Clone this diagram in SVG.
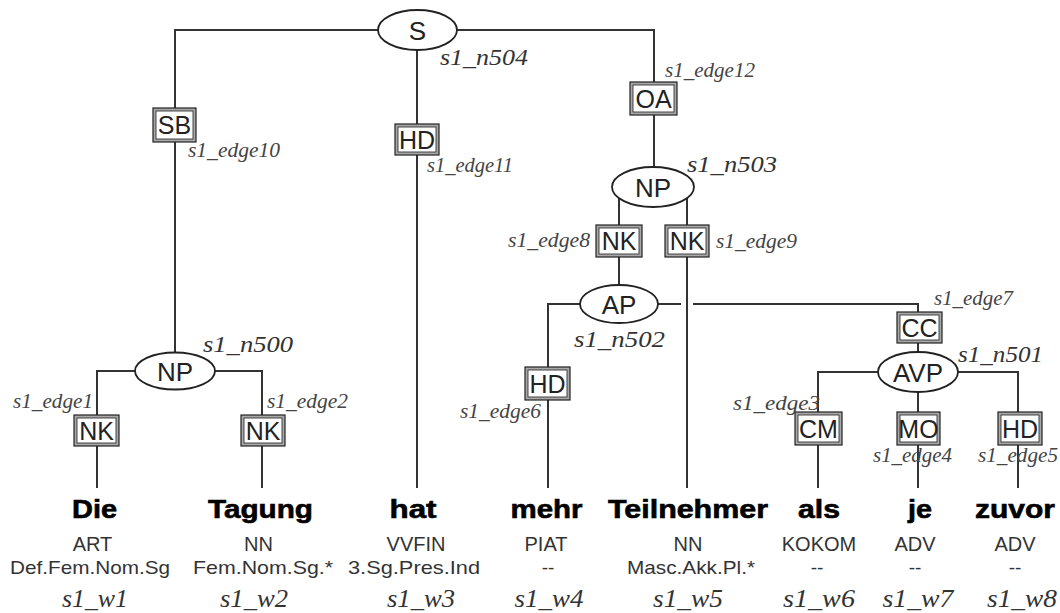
<svg xmlns="http://www.w3.org/2000/svg" width="1060" height="613" viewBox="0 0 1060 613">
<style>
.ln{fill:none;stroke:#333;stroke-width:2}
.el{fill:#fff;stroke:#222;stroke-width:1.8}
.bo{fill:#a8a8a8;stroke:#222;stroke-width:1.2}
.bi{fill:#fff;stroke:#333;stroke-width:0.9}
.nt{font-family:"Liberation Sans",Arial,sans-serif;font-size:26px;fill:#222;text-anchor:middle}
.bt{font-family:"Liberation Sans",Arial,sans-serif;font-size:25px;fill:#222;text-anchor:middle}
.id{font-family:"Liberation Serif","Times New Roman",serif;font-style:italic;font-size:24px;fill:#333}
.ed{font-family:"Liberation Serif","Times New Roman",serif;font-style:italic;font-size:20px;fill:#444}
.w{font-family:"Liberation Sans",Arial,sans-serif;font-weight:bold;font-size:25px;fill:#000;stroke:#000;stroke-width:0.6;text-anchor:middle}
.p{font-family:"Liberation Sans",Arial,sans-serif;font-size:20px;fill:#333;text-anchor:middle}
.m{font-family:"Liberation Sans",Arial,sans-serif;font-size:19px;fill:#333;text-anchor:middle}
.wi{font-family:"Liberation Serif","Times New Roman",serif;font-style:italic;font-size:26px;fill:#333;text-anchor:middle}
</style>
<rect width="1060" height="613" fill="#fff"/>
<g id="connectors">
<path class="ln" d="M378,30 H175 V353"/>
<path class="ln" d="M417,50 V488"/>
<path class="ln" d="M457,30 H654 V167"/>
<path class="ln" d="M135,371 H97 V488"/>
<path class="ln" d="M215,371 H262 V488"/>
<path class="ln" d="M619,198 V285"/>
<path class="ln" d="M687,198 V488"/>
<path class="ln" d="M580,304 H548 V488"/>
<path class="ln" d="M658,304 H681"/>
<path class="ln" d="M693,304 H918 V352"/>
<path class="ln" d="M878,372 H818 V488"/>
<path class="ln" d="M918,392 V488"/>
<path class="ln" d="M958,372 H1018 V488"/>
</g>
<g id="edge-labels">
<g id="e10"><rect class="bo" x="153" y="108" width="43" height="34"/><rect class="bi" x="156" y="111" width="37" height="28"/><text class="bt" x="174.5" y="134">SB</text><text class="ed" x="188" y="157" textLength="92" lengthAdjust="spacingAndGlyphs">s1_edge10</text></g>
<g id="e11"><rect class="bo" x="395" y="124" width="44" height="31"/><rect class="bi" x="398" y="127" width="38" height="25"/><text class="bt" x="417" y="148.5">HD</text><text class="ed" x="427" y="172" textLength="86" lengthAdjust="spacingAndGlyphs">s1_edge11</text></g>
<g id="e12"><rect class="bo" x="630" y="82" width="47" height="33"/><rect class="bi" x="633" y="85" width="41" height="27"/><text class="bt" x="653.5" y="107.5">OA</text><text class="ed" x="665" y="77" textLength="90" lengthAdjust="spacingAndGlyphs">s1_edge12</text></g>
<g id="e8"><rect class="bo" x="596" y="225" width="46" height="32"/><rect class="bi" x="599" y="228" width="40" height="26"/><text class="bt" x="619" y="250">NK</text><text class="ed" x="508" y="247" textLength="82" lengthAdjust="spacingAndGlyphs">s1_edge8</text></g>
<g id="e9"><rect class="bo" x="665" y="225" width="44" height="32"/><rect class="bi" x="668" y="228" width="38" height="26"/><text class="bt" x="687" y="250">NK</text><text class="ed" x="716" y="248" textLength="81" lengthAdjust="spacingAndGlyphs">s1_edge9</text></g>
<g id="e1"><rect class="bo" x="74" y="415" width="45" height="31"/><rect class="bi" x="77" y="418" width="39" height="25"/><text class="bt" x="96.5" y="439.5">NK</text><text class="ed" x="13" y="408" textLength="80" lengthAdjust="spacingAndGlyphs">s1_edge1</text></g>
<g id="e2"><rect class="bo" x="241" y="415" width="44" height="31"/><rect class="bi" x="244" y="418" width="38" height="25"/><text class="bt" x="263" y="439.5">NK</text><text class="ed" x="267" y="408" textLength="81" lengthAdjust="spacingAndGlyphs">s1_edge2</text></g>
<g id="e6"><rect class="bo" x="525" y="367" width="45" height="33"/><rect class="bi" x="528" y="370" width="39" height="27"/><text class="bt" x="547.5" y="392.5">HD</text><text class="ed" x="460" y="418" textLength="81" lengthAdjust="spacingAndGlyphs">s1_edge6</text></g>
<g id="e7"><rect class="bo" x="897" y="312" width="45" height="31"/><rect class="bi" x="900" y="315" width="39" height="25"/><text class="bt" x="919.5" y="336.5">CC</text><text class="ed" x="934" y="305" textLength="79" lengthAdjust="spacingAndGlyphs">s1_edge7</text></g>
<g id="e3"><rect class="bo" x="795" y="412" width="47" height="33"/><rect class="bi" x="798" y="415" width="41" height="27"/><text class="bt" x="818.5" y="437.5">CM</text><text class="ed" x="733" y="410" textLength="87" lengthAdjust="spacingAndGlyphs">s1_edge3</text></g>
<g id="e4"><text class="ed" x="873" y="462" textLength="79" lengthAdjust="spacingAndGlyphs">s1_edge4</text><rect class="bo" x="897" y="412" width="43" height="33"/><rect class="bi" x="900" y="415" width="37" height="27"/><text class="bt" x="918.5" y="437.5">MO</text></g>
<g id="e5"><text class="ed" x="978" y="462" textLength="80" lengthAdjust="spacingAndGlyphs">s1_edge5</text><rect class="bo" x="998" y="412" width="44" height="33"/><rect class="bi" x="1001" y="415" width="38" height="27"/><text class="bt" x="1020" y="437.5">HD</text></g>
</g>
<g id="n504"><ellipse class="el" cx="417.5" cy="30" rx="39.5" ry="20"/><text class="nt" x="417.5" y="39.5">S</text><text class="id" x="440" y="65" textLength="88" lengthAdjust="spacingAndGlyphs">s1_n504</text></g>
<g id="n500"><ellipse class="el" cx="175" cy="371" rx="40" ry="18.5"/><text class="nt" x="175" y="380.5">NP</text><text class="id" x="203" y="352" textLength="90" lengthAdjust="spacingAndGlyphs">s1_n500</text></g>
<g id="n503"><ellipse class="el" cx="653" cy="187" rx="41" ry="20"/><text class="nt" x="653" y="196.5">NP</text><text class="id" x="687" y="172" textLength="90" lengthAdjust="spacingAndGlyphs">s1_n503</text></g>
<g id="n502"><ellipse class="el" cx="619" cy="304" rx="39" ry="19"/><text class="nt" x="619" y="313.5">AP</text><text class="id" x="574" y="347" textLength="91" lengthAdjust="spacingAndGlyphs">s1_n502</text></g>
<g id="n501"><ellipse class="el" cx="918" cy="372" rx="40" ry="20"/><text class="nt" x="918" y="381.5">AVP</text><text class="id" x="958" y="362" textLength="85" lengthAdjust="spacingAndGlyphs">s1_n501</text></g>
<g id="w1"><text class="w" x="94.5" y="518" textLength="45" lengthAdjust="spacingAndGlyphs">Die</text><text class="p" x="92.5" y="551">ART</text><text class="m" x="90" y="574" textLength="160" lengthAdjust="spacingAndGlyphs">Def.Fem.Nom.Sg</text><text class="wi" x="95" y="607" textLength="66" lengthAdjust="spacingAndGlyphs">s1_w1</text></g>
<g id="w2"><text class="w" x="260.5" y="518" textLength="105" lengthAdjust="spacingAndGlyphs">Tagung</text><text class="p" x="258.5" y="551">NN</text><text class="m" x="263" y="574" textLength="140" lengthAdjust="spacingAndGlyphs">Fem.Nom.Sg.*</text><text class="wi" x="254" y="607" textLength="68" lengthAdjust="spacingAndGlyphs">s1_w2</text></g>
<g id="w3"><text class="w" x="413" y="518" textLength="47" lengthAdjust="spacingAndGlyphs">hat</text><text class="p" x="416" y="551">VVFIN</text><text class="m" x="414" y="574" textLength="132" lengthAdjust="spacingAndGlyphs">3.Sg.Pres.Ind</text><text class="wi" x="421" y="607" textLength="68" lengthAdjust="spacingAndGlyphs">s1_w3</text></g>
<g id="w4"><text class="w" x="546.5" y="518" textLength="72" lengthAdjust="spacingAndGlyphs">mehr</text><text class="p" x="546" y="551">PIAT</text><text class="m" x="548" y="574">--</text><text class="wi" x="549" y="607" textLength="69" lengthAdjust="spacingAndGlyphs">s1_w4</text></g>
<g id="w5"><text class="w" x="688" y="518" textLength="160" lengthAdjust="spacingAndGlyphs">Teilnehmer</text><text class="p" x="688" y="551">NN</text><text class="m" x="691" y="574" textLength="128" lengthAdjust="spacingAndGlyphs">Masc.Akk.Pl.*</text><text class="wi" x="688" y="607" textLength="70" lengthAdjust="spacingAndGlyphs">s1_w5</text></g>
<g id="w6"><text class="w" x="819" y="518" textLength="42" lengthAdjust="spacingAndGlyphs">als</text><text class="p" x="819" y="551">KOKOM</text><text class="m" x="817" y="574">--</text><text class="wi" x="819" y="607" textLength="72" lengthAdjust="spacingAndGlyphs">s1_w6</text></g>
<g id="w7"><text class="w" x="920" y="518" textLength="24" lengthAdjust="spacingAndGlyphs">je</text><text class="p" x="915" y="551">ADV</text><text class="m" x="915" y="574">--</text><text class="wi" x="918" y="607" textLength="71" lengthAdjust="spacingAndGlyphs">s1_w7</text></g>
<g id="w8"><text class="w" x="1015" y="518" textLength="80" lengthAdjust="spacingAndGlyphs">zuvor</text><text class="p" x="1015" y="551">ADV</text><text class="m" x="1015" y="574">--</text><text class="wi" x="1022" y="607" textLength="70" lengthAdjust="spacingAndGlyphs">s1_w8</text></g>
</svg>
